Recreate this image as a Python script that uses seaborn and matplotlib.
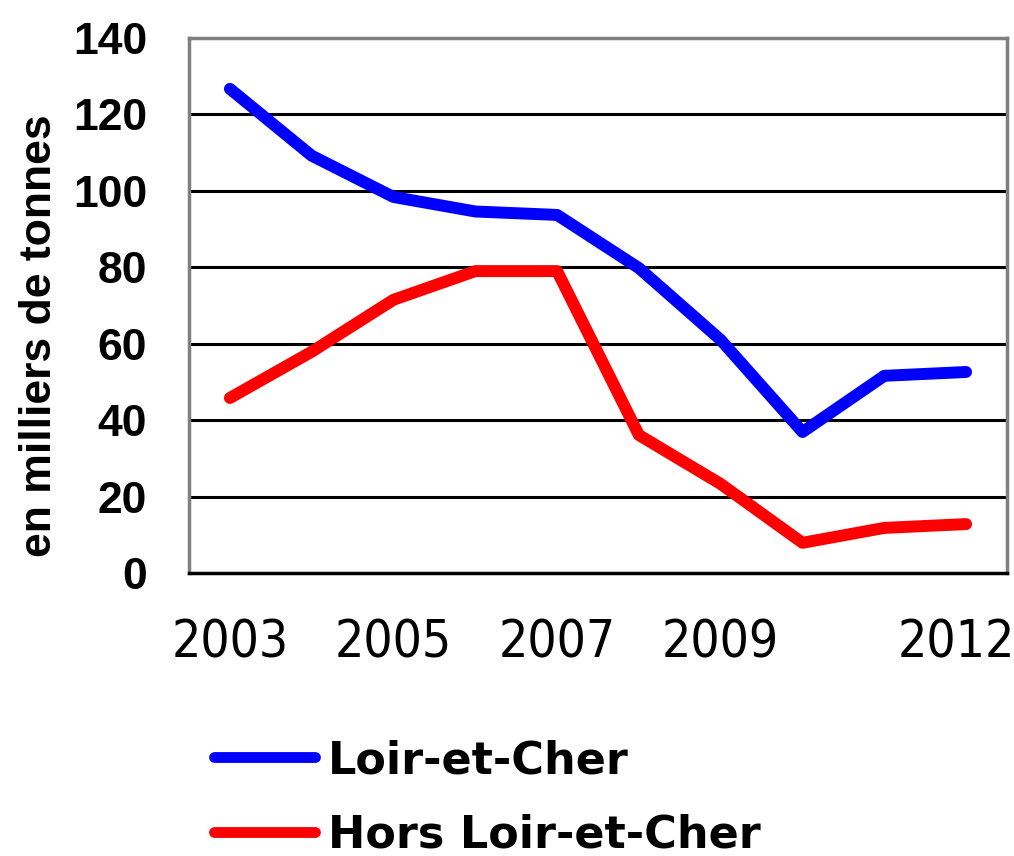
import matplotlib
matplotlib.use("Agg")
import matplotlib.pyplot as plt
from matplotlib import font_manager
import seaborn as sns
import pandas as pd
import numpy as np

years = [2003, 2004, 2005, 2006, 2007, 2008, 2009, 2010, 2011, 2012]
year_labels = ["2003", "", "2005", "", "2007", "", "2009", "", "", "2012"]
loir_et_cher = [126.7, 109.2, 98.4, 94.6, 93.7, 79.8, 61.0, 36.9, 51.6, 52.6]
hors_loir_et_cher = [45.8, 57.9, 71.5, 79.0, 79.0, 36.1, 23.3, 7.9, 11.8, 12.8]
series_names = ["Loir-et-Cher", "Hors Loir-et-Cher"]
colors = ["#0000FF", "#FF0000"]

sns.set_style("white")
plt.rcParams['font.family'] = ['Liberation Sans', 'DejaVu Sans']
plt.rcParams['text.color'] = 'black'
plt.rcParams['xtick.color'] = 'black'
plt.rcParams['ytick.color'] = 'black'
plt.rcParams['axes.labelcolor'] = 'black'

cond_path = None
for f in font_manager.fontManager.ttflist:
    if f.name.startswith("DejaVu Sans") and "Condensed" in f.fname and "Bold" not in f.fname and "Oblique" not in f.fname:
        cond_path = f.fname
        break

df = pd.DataFrame({
    "idx": list(range(len(years))) * 2,
    "value": loir_et_cher + hors_loir_et_cher,
    "serie": [series_names[0]] * len(years) + [series_names[1]] * len(years),
})

fig = plt.figure(figsize=(10.14, 8.56), dpi=100)
ax = fig.add_axes([189/1014, 1-573/856, (1007-189)/1014, (573-38)/856])

sns.lineplot(data=df, x="idx", y="value", hue="serie", palette=colors,
             linewidth=8.6, ax=ax, legend=False, solid_capstyle="round",
             solid_joinstyle="round", zorder=5)

ax.set_xlim(-0.5, len(years) - 0.5)
ax.set_ylim(0, 140)
ax.set_yticks(np.arange(0, 141, 20))
ax.set_yticklabels([str(v) for v in range(0, 141, 20)],
                   fontsize=32, fontweight="bold")
for y in range(20, 140, 20):
    ax.axhline(y, color="black", lw=2.2, zorder=1)

ax.set_xticks(np.arange(-0.5, len(years), 1.0))
ax.set_xticklabels([])
ax.set_xticks(np.arange(len(years)), minor=True)
if cond_path:
    fp = font_manager.FontProperties(fname=cond_path, size=37)
else:
    fp = font_manager.FontProperties(family="DejaVu Sans", size=30)
ax.set_xticklabels(year_labels, minor=True, fontproperties=fp)
ax.tick_params(axis="x", which="major", length=12, width=2.2, color="black",
               direction="out")
ax.tick_params(axis="x", which="minor", length=0, pad=33)
ax.tick_params(axis="y", length=12, width=2.5, color="#808080", pad=18,
               direction="out", labelcolor="black")
ax.set_xlabel("")
ax.set_ylabel("")
last = ax.get_xticklabels(minor=True)[-1]
last.set_transform(last.get_transform() + matplotlib.transforms.ScaledTranslation(-10/100, 0, fig.dpi_scale_trans))

for s in ["left", "right", "top"]:
    ax.spines[s].set_color("#808080")
    ax.spines[s].set_linewidth(2.5)
ax.spines["bottom"].set_color("black")
ax.spines["bottom"].set_linewidth(2.5)

fig.text(40/1014, 1-336/856, "en milliers de tonnes", rotation=90,
         ha="center", va="center", fontsize=32, fontweight="bold")

handles = [plt.Line2D([0], [0], color=c, lw=7.8, solid_capstyle="round")
           for c in colors]
fig.legend(handles, series_names, loc="upper left",
           bbox_to_anchor=(214/1014, 1-739/856), frameon=False,
           prop={"family": "DejaVu Sans", "size": 32, "weight": "bold"},
           handlelength=2.27, handletextpad=0.29, labelspacing=0.7,
           borderpad=0, borderaxespad=0)

fig.savefig("out.png", dpi=100)
